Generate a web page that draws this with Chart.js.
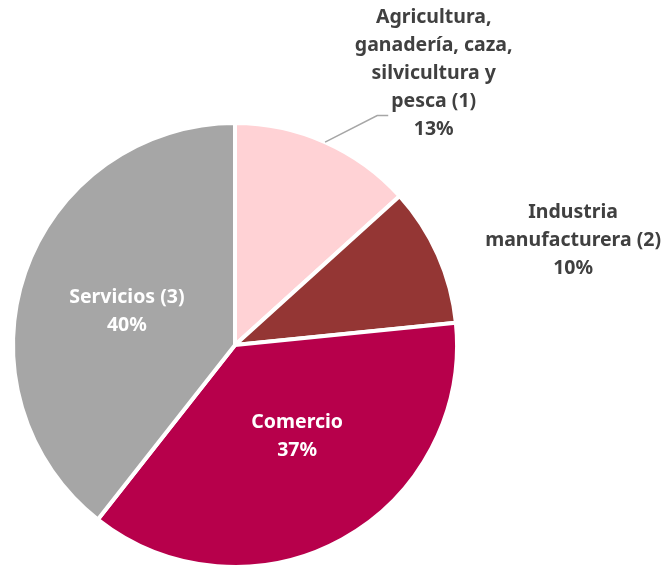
<!DOCTYPE html>
<html>
<head>
<meta charset="utf-8">
<script src="https://cdn.jsdelivr.net/npm/chart.js@4"></script>
<style>
  html, body { margin: 0; padding: 0; background: #fff; }
  #wrap { width: 664px; height: 565px; overflow: hidden; }
</style>
</head>
<body>
<div id="wrap"><canvas id="grafica" width="664" height="573"></canvas></div>
<script type="text/javascript">

    // Sectores (etiquetas multilinea)
    var sectores = [
        ["Agricultura,", "ganadería, caza,", "silvicultura y", "pesca (1)"],
        ["Industria", "manufacturera (2)"],
        ["Comercio"],
        ["Servicios (3)"]
    ];
    // Participacion (%)
    var participacion = [13.3, 10.1, 37.2, 39.4];
    var etiquetasPct = ["13%", "10%", "37%", "40%"];
    var colores = ["#FFD2D5", "#943634", "#B7004B", "#A6A6A6"];

    // posicion de cada texto (desplazamiento desde el centro, en radios)
    var posTexto = [
        { dx: 0.895, dy: -1.223, color: "#404040" },
        { dx: 1.523, dy: -0.473, color: "#404040" },
        { dx: 0.28, dy: 0.41, color: "#FFFFFF" },
        { dx: -0.487, dy: -0.15, color: "#FFFFFF" }
    ];

    var fuente = "bold 19.5px 'Noto Sans', 'Open Sans', sans-serif";
    var altoLinea = 28;

    var pluginEtiquetas = {
        id: "etiquetas",
        afterDatasetsDraw: function(chart) {
            var ctx = chart.ctx;
            var meta = chart.getDatasetMeta(0);
            ctx.save();
            ctx.font = fuente;
            ctx.textAlign = "center";
            ctx.textBaseline = "middle";
            meta.data.forEach(function(arco, i) {
                var lineas = sectores[i].concat([etiquetasPct[i]]);
                var p = posTexto[i];
                var x = arco.x + p.dx * arco.outerRadius;
                var y = arco.y + p.dy * arco.outerRadius;
                ctx.fillStyle = p.color;
                var y0 = y - (lineas.length - 1) * altoLinea / 2;
                lineas.forEach(function(l, k) {
                    ctx.fillText(l, x, y0 + k * altoLinea);
                });
            });

            // linea guia del primer sector
            var a = meta.data[0];
            var medio = (a.startAngle + a.endAngle) / 2;
            var r = a.outerRadius;
            var x1 = a.x + Math.cos(medio) * r;
            var y1 = a.y + Math.sin(medio) * r;
            var xt = a.x + posTexto[0].dx * r;
            var yt = a.y + posTexto[0].dy * r + 1.5 * altoLinea;
            var fin = xt - ctx.measureText("pesca (1)").width / 2 - 3;
            ctx.strokeStyle = "#A6A6A6";
            ctx.lineWidth = 1.5;
            ctx.beginPath();
            ctx.moveTo(x1, y1);
            ctx.lineTo(fin - 11, yt);
            ctx.lineTo(fin, yt);
            ctx.stroke();
            ctx.restore();
        }
    };

    var canvas = document.getElementById("grafica");
    var context = canvas.getContext("2d");

    new Chart(context, {
        type: "pie",
        data: {
            labels: sectores.map(function(s) { return s.join(" "); }),
            datasets: [{
                data: participacion,
                backgroundColor: colores,
                borderColor: "#FFFFFF",
                borderWidth: 4,
                hoverOffset: 0
            }]
        },
        options: {
            responsive: false,
            animation: false,
            devicePixelRatio: 1,
            layout: {
                padding: { left: 11, right: 205, top: 117, bottom: 0 }
            },
            plugins: {
                legend: { display: false },
                tooltip: { enabled: false },
                title: { display: false }
            }
        },
        plugins: [pluginEtiquetas]
    });

</script>
</body>
</html>
